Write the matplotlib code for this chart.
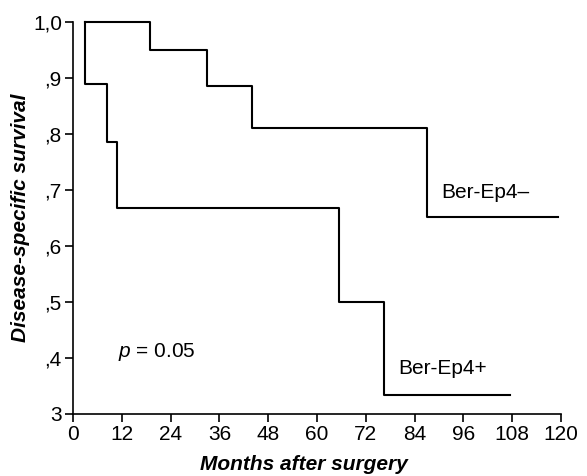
import matplotlib
matplotlib.use("Agg")
from matplotlib import pyplot as plt

plt.rcParams['font.family'] = ['Liberation Sans', 'DejaVu Sans']
plt.rcParams['mathtext.fontset'] = 'custom'
plt.rcParams['mathtext.it'] = 'Liberation Sans:italic'
plt.rcParams['mathtext.rm'] = 'Liberation Sans'

# Ber-Ep4- group (step times in months, survival after each step)
neg_months = [3, 19, 33, 44, 87, 119.3]
neg_surv = [1.0, 0.95, 0.886, 0.81, 0.652, 0.652]

# Ber-Ep4+ group
pos_months = [3, 3, 8.3, 10.9, 65.5, 76.5, 107.5]
pos_surv = [1.0, 0.889, 0.786, 0.667, 0.5, 0.334, 0.334]

x_ticks = [0, 12, 24, 36, 48, 60, 72, 84, 96, 108, 120]
y_ticks = [0.3, 0.4, 0.5, 0.6, 0.7, 0.8, 0.9, 1.0]
y_labels = ["3", ",4", ",5", ",6", ",7", ",8", ",9", "1,0"]

fig = plt.figure(figsize=(5.87, 4.76), dpi=100)
ax = fig.add_axes([0.1244, 0.1303, 0.8313, 0.8235])

ax.step(neg_months, neg_surv, where='post', c='black', lw=1.5, clip_on=False)
ax.step(pos_months, pos_surv, where='post', c='black', lw=1.5, clip_on=False)

ax.text(90.5, 0.695, "Ber-Ep4\u2013", fontsize=15, va='center', ha='left')
ax.text(80, 0.382, "Ber-Ep4+", fontsize=15, va='center', ha='left')
ax.text(11, 0.41, r"$\it{p}$ = 0.05", fontsize=15, va='center', ha='left')

ax.set_xlim(0, 120)
ax.set_ylim(0.3, 1.0)
ax.set_xticks(x_ticks)
ax.set_yticks(y_ticks)
ax.set_yticklabels(y_labels)
ax.tick_params(axis='both', which='major', labelsize=15, direction='out',
               length=6, width=1.2, pad=2)

for side in ['top', 'right']:
    ax.spines[side].set_visible(False)
for side in ['left', 'bottom']:
    ax.spines[side].set_linewidth(1.2)

ax.set_xlabel("Months after surgery", fontsize=15, fontweight='bold',
              style='italic')
ax.xaxis.set_label_coords(0.473, -0.105)
ax.set_ylabel("Disease-specific survival", fontsize=15, fontweight='bold',
              style='italic', labelpad=2)

fig.savefig("out.png", dpi=100)
